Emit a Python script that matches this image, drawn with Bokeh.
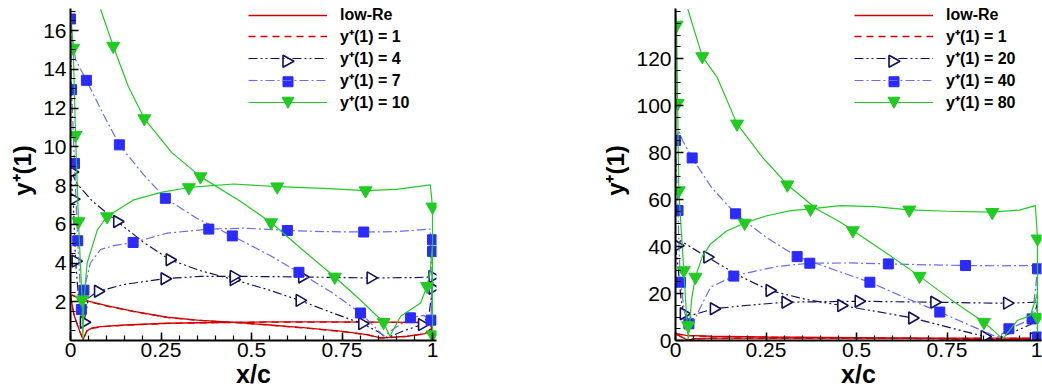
import numpy as np
from bokeh.plotting import figure
from bokeh.layouts import row
from bokeh.models import FixedTicker, Legend, LegendItem, Range1d, PolyAnnotation
from bokeh.embed import file_html
from bokeh.resources import INLINE

# ---------------- LEFT PANEL DATA ----------------
L_lowre_a_x = [0, 0.005, 0.035, 0.1, 0.175, 0.267, 0.35, 0.451, 0.55, 0.65, 0.746, 0.82, 0.856, 0.9, 0.93, 0.98, 0.995, 1.0]
L_lowre_a_y = [2.3, 2.35, 2.1, 1.8, 1.5, 1.2, 1.05, 0.94, 0.8, 0.65, 0.48, 0.3, 0.14, 0.18, 0.22, 0.36, 0.6, 0.2]
L_lowre_b_x = [0, 0.01, 0.025, 0.035, 0.045, 0.06, 0.083, 0.15, 0.267, 0.4, 0.55, 0.7, 0.85, 0.95, 0.995, 1.0]
L_lowre_b_y = [2.3, 1.3, 0.5, 0.05, 0.5, 0.65, 0.72, 0.8, 0.89, 0.93, 0.96, 0.96, 0.95, 0.94, 0.94, 0.1]

L_yp1_a_x = [0, 0.005, 0.035, 0.1, 0.175, 0.267, 0.35, 0.451, 0.55, 0.65, 0.746, 0.82, 0.856, 0.9, 0.93, 0.98, 0.995, 1.0]
L_yp1_a_y = [2.28, 2.33, 2.08, 1.78, 1.49, 1.19, 1.04, 0.93, 0.79, 0.64, 0.47, 0.29, 0.13, 0.17, 0.21, 0.35, 0.58, 0.2]
L_yp1_b_x = [0, 0.01, 0.025, 0.035, 0.045, 0.06, 0.083, 0.15, 0.267, 0.4, 0.55, 0.7, 0.85, 0.95, 0.995, 1.0]
L_yp1_b_y = [2.28, 1.28, 0.48, 0.05, 0.48, 0.63, 0.7, 0.79, 0.88, 0.92, 0.95, 0.95, 0.94, 0.93, 0.93, 0.1]

L_yp4_a_x = [0, 0.005, 0.018, 0.06, 0.129, 0.2, 0.274, 0.36, 0.451, 0.55, 0.633, 0.72, 0.806, 0.85, 0.875, 0.92, 0.971, 0.99, 1.0]
L_yp4_a_y = [8.7, 8.6, 8.1, 7.2, 6.14, 5.1, 4.17, 3.6, 3.14, 2.6, 2.07, 1.45, 0.87, 0.45, 0.14, 0.5, 0.82, 1.3, 2.7]
L_yp4_a_mx = [0.004, 0.129, 0.274, 0.451, 0.633, 0.806, 0.971, 1.0]
L_yp4_a_my = [8.7, 6.14, 4.17, 3.14, 2.07, 0.87, 0.82, 2.7]
L_yp4_b_x = [0, 0.003, 0.0075, 0.014, 0.024, 0.03, 0.037, 0.05, 0.076, 0.15, 0.26, 0.359, 0.451, 0.55, 0.64, 0.75, 0.829, 0.95, 0.999, 1.0]
L_yp4_b_y = [8.7, 8.0, 7.3, 4.1, 1.8, 1.1, 0.94, 2.2, 2.54, 2.9, 3.19, 3.31, 3.31, 3.3, 3.28, 3.25, 3.23, 3.25, 3.28, 0.1]
L_yp4_b_mx = [0.0075, 0.014, 0.037, 0.076, 0.26, 0.451, 0.64, 0.829, 1.0]
L_yp4_b_my = [7.3, 4.1, 0.94, 2.54, 3.19, 3.31, 3.28, 3.23, 3.3]

L_yp7_a_x = [0, 0.005, 0.014, 0.044, 0.09, 0.135, 0.2, 0.262, 0.35, 0.447, 0.55, 0.631, 0.72, 0.801, 0.84, 0.865, 0.9, 0.939, 0.975, 0.996, 1.0]
L_yp7_a_y = [16.6, 15.6, 14.5, 13.43, 11.7, 10.1, 8.6, 7.34, 6.3, 5.4, 4.4, 3.52, 2.5, 1.42, 0.7, 0.22, 0.7, 1.17, 1.3, 1.05, 4.6]
L_yp7_a_mx = [0.0, 0.044, 0.135, 0.262, 0.447, 0.631, 0.801, 0.939, 0.996, 1.0]
L_yp7_a_my = [16.6, 13.43, 10.1, 7.34, 5.4, 3.52, 1.42, 1.17, 1.05, 4.6]
L_yp7_b_x = [0, 0.003, 0.011, 0.02, 0.03, 0.034, 0.037, 0.055, 0.083, 0.12, 0.173, 0.267, 0.382, 0.48, 0.599, 0.7, 0.81, 0.9, 0.994, 1.0]
L_yp7_b_y = [16.6, 12.95, 9.14, 5.15, 1.6, 1.0, 2.6, 4.0, 4.7, 4.9, 5.06, 5.54, 5.75, 5.8, 5.68, 5.62, 5.6, 5.62, 5.75, 0.2]
L_yp7_b_mx = [0.003, 0.011, 0.02, 0.03, 0.037, 0.173, 0.382, 0.599, 0.81, 1.0]
L_yp7_b_my = [12.95, 9.14, 5.15, 1.6, 2.6, 5.06, 5.75, 5.68, 5.6, 5.2]

L_yp10_a_x = [0.083, 0.118, 0.16, 0.204, 0.28, 0.359, 0.47, 0.554, 0.64, 0.73, 0.8, 0.865, 0.882, 0.912, 0.967, 0.985, 0.994, 1.0]
L_yp10_a_y = [17.1, 15.2, 13.1, 11.46, 9.7, 8.46, 7.17, 6.09, 4.7, 3.28, 2.1, 0.94, 0.22, 1.25, 1.94, 2.8, 3.65, 5.0]
L_yp10_a_mx = [0.118, 0.204, 0.359, 0.554, 0.73, 0.865, 0.985]
L_yp10_a_my = [15.2, 11.46, 8.46, 6.09, 3.28, 0.94, 2.8]
L_yp10_b_x = [0, 0.0075, 0.014, 0.022, 0.032, 0.034, 0.037, 0.046, 0.074, 0.101, 0.175, 0.25, 0.327, 0.451, 0.571, 0.7, 0.815, 0.9, 0.994, 1.0, 1.0]
L_yp10_b_y = [17.1, 15.1, 10.6, 6.14, 2.1, 0.05, 2.0, 4.0, 5.7, 6.4, 7.26, 7.65, 7.9, 8.08, 7.94, 7.85, 7.74, 7.8, 8.03, 6.9, 0.1]
L_yp10_b_mx = [0.0075, 0.014, 0.022, 0.032, 0.101, 0.327, 0.571, 0.815, 1.0, 1.0]
L_yp10_b_my = [15.1, 10.6, 6.14, 2.1, 6.4, 7.9, 7.94, 7.74, 6.9, 0.3]

# ---------------- RIGHT PANEL DATA ----------------
R_lowre_a_x = [0, 0.005, 0.03, 0.1, 0.25, 0.5, 0.75, 0.88, 0.95, 1.0]
R_lowre_a_y = [3.0, 2.8, 2.2, 1.8, 1.5, 1.2, 0.8, 0.3, 0.6, 0.4]
R_lowre_b_x = [0, 0.02, 0.035, 0.05, 0.1, 0.3, 0.6, 0.9, 0.995, 1.0]
R_lowre_b_y = [3.0, 1.2, 0.1, 0.8, 1.0, 1.0, 1.0, 1.0, 1.0, 0.1]

R_yp1_a_x = [0, 0.005, 0.03, 0.1, 0.25, 0.5, 0.75, 0.88, 0.95, 1.0]
R_yp1_a_y = [2.9, 2.7, 2.1, 1.7, 1.4, 1.1, 0.7, 0.3, 0.5, 0.4]
R_yp1_b_x = [0, 0.02, 0.035, 0.05, 0.1, 0.3, 0.6, 0.9, 0.995, 1.0]
R_yp1_b_y = [2.9, 1.1, 0.1, 0.7, 0.9, 0.9, 0.9, 0.9, 0.9, 0.1]

R_yp20_a_x = [0, 0.005, 0.014, 0.05, 0.088, 0.17, 0.26, 0.36, 0.458, 0.55, 0.654, 0.75, 0.854, 0.88, 0.944, 0.985, 1.0]
R_yp20_a_y = [40.4, 40.4, 42.5, 39.0, 35.5, 28.0, 21.3, 17.5, 14.9, 12.5, 9.6, 5.8, 1.7, 0.3, 4.3, 7.1, 16.0]
R_yp20_a_mx = [0.005, 0.088, 0.26, 0.458, 0.654, 0.854]
R_yp20_a_my = [40.4, 35.5, 21.3, 14.9, 9.6, 1.7]
R_yp20_b_x = [0, 0.008, 0.015, 0.023, 0.035, 0.05, 0.106, 0.2, 0.304, 0.4, 0.506, 0.6, 0.715, 0.82, 0.916, 0.999, 1.0]
R_yp20_b_y = [40.4, 30.0, 18.0, 11.4, 9.0, 11.0, 13.5, 15.0, 16.3, 16.5, 16.7, 16.5, 16.3, 16.0, 15.9, 16.3, 0.5]
R_yp20_b_mx = [0.023, 0.106, 0.304, 0.506, 0.715, 0.916, 0.99]
R_yp20_b_my = [11.4, 13.5, 16.3, 16.7, 16.3, 15.9, 0.8]

R_yp40_a_x = [0, 0.009, 0.02, 0.046, 0.1, 0.166, 0.25, 0.336, 0.44, 0.537, 0.63, 0.73, 0.82, 0.889, 0.921, 0.985, 1.0]
R_yp40_a_y = [85.1, 89.4, 85.0, 77.7, 65.0, 53.9, 44.0, 35.7, 30.0, 24.8, 18.5, 12.1, 6.0, 1.4, 5.0, 9.2, 30.0]
R_yp40_a_mx = [0.0, 0.046, 0.166, 0.336, 0.537, 0.73, 0.921, 0.985]
R_yp40_a_my = [85.1, 77.7, 53.9, 35.7, 24.8, 12.1, 5.0, 9.2]
R_yp40_b_x = [0, 0.003, 0.007, 0.01, 0.014, 0.025, 0.037, 0.045, 0.06, 0.097, 0.161, 0.22, 0.281, 0.371, 0.48, 0.588, 0.7, 0.801, 0.9, 0.999, 1.0]
R_yp40_b_y = [85.1, 70.0, 55.3, 38.0, 24.8, 12.0, 7.1, 6.0, 11.3, 22.7, 27.4, 29.5, 31.5, 32.9, 33.0, 32.6, 32.2, 31.9, 31.8, 31.9, 1.0]
R_yp40_b_mx = [0.007, 0.014, 0.037, 0.161, 0.371, 0.588, 0.801, 1.0, 1.0]
R_yp40_b_my = [55.3, 24.8, 7.1, 27.4, 32.9, 32.6, 31.9, 30.5, 1.5]

R_yp80_a_x = [0.034, 0.074, 0.115, 0.17, 0.24, 0.309, 0.39, 0.456, 0.49, 0.58, 0.674, 0.76, 0.852, 0.904, 0.944, 0.98, 1.0]
R_yp80_a_y = [141.0, 120.9, 112.0, 92.2, 78.0, 66.3, 56.0, 50.3, 46.8, 37.5, 27.4, 17.5, 7.8, 0.7, 8.5, 10.6, 20.0]
R_yp80_a_mx = [0.074, 0.17, 0.309, 0.49, 0.674, 0.852]
R_yp80_a_my = [120.9, 92.2, 66.3, 46.8, 27.4, 7.8]
R_yp80_b_x = [0, 0.003, 0.006, 0.009, 0.023, 0.03, 0.035, 0.045, 0.055, 0.075, 0.097, 0.14, 0.191, 0.25, 0.318, 0.373, 0.456, 0.55, 0.646, 0.75, 0.875, 0.95, 0.994, 1.0, 1.0]
R_yp80_b_y = [141.0, 134.3, 101.0, 63.8, 29.8, 12.0, 0.5, 18.0, 27.2, 36.0, 41.1, 46.5, 50.0, 53.0, 55.3, 56.0, 57.4, 57.0, 55.6, 55.0, 54.6, 55.5, 57.4, 43.3, 0.5]
R_yp80_b_mx = [0.003, 0.006, 0.009, 0.023, 0.035, 0.055, 0.191, 0.373, 0.646, 0.875, 1.0, 1.0]
R_yp80_b_my = [134.3, 101.0, 63.8, 29.8, 6.4, 27.0, 50.0, 56.0, 55.6, 54.6, 43.3, 9.9]

# ---------------- TICKS / LABELS ----------------
x_ticks = [0, 0.25, 0.5, 0.75, 1]
x_tick_labels = ["0", "0.25", "0.5", "0.75", "1"]
L_y_ticks = [2, 4, 6, 8, 10, 12, 14, 16]
R_y_ticks = [0, 20, 40, 60, 80, 100, 120]
L_labels = ["low-Re", "y\u207a(1) = 1", "y\u207a(1) = 4", "y\u207a(1) = 7", "y\u207a(1) = 10"]
R_labels = ["low-Re", "y\u207a(1) = 1", "y\u207a(1) = 20", "y\u207a(1) = 40", "y\u207a(1) = 80"]
L_y_axis_top = 17.14
R_y_axis_top = 141.3

RED = "#d40000"
NAVY = "#10105e"
BLUE_LINE = "#6a6aff"
BLUE_MK = "#2b2bff"
GREEN = "#1fcc1f"
FONT = "Liberation Sans"

ITEM_H = 22.5    # legend row height (set by the 16px label text)
ROW_GAP = -2
GLYPH_W = 79


def legend_marker(p, kind, cx, cy):
    """Draw a legend marker as a screen-space polygon (Bokeh's legend ignores marker angle)."""
    if kind == "tri_right":
        xs = [cx - 5, cx - 5, cx + 6]
        ys = [cy + 6, cy - 6, cy]
        fill, line, lw = "white", NAVY, 1.6
    elif kind == "square":
        xs = [cx - 5, cx + 5, cx + 5, cx - 5]
        ys = [cy - 5, cy - 5, cy + 5, cy + 5]
        fill, line, lw = BLUE_MK, BLUE_MK, 1
    else:
        xs = [cx - 6, cx + 6, cx]
        ys = [cy + 5, cy + 5, cy - 6]
        fill, line, lw = GREEN, GREEN, 1
    p.add_layout(PolyAnnotation(xs=xs, ys=ys, xs_units="screen", ys_units="screen",
                                fill_color=fill, fill_alpha=1.0, line_color=line,
                                line_alpha=1.0, line_width=lw, level="overlay"))


def make_panel(width, border_left, border_right, frame_bottom, axis_top, yticks, yminor,
               series, labels, legend_x, legend_y):
    # the frame reaches the top of the canvas so the legend is not clipped;
    # the y axis line itself stops at axis_top (8 px below the canvas top)
    px_per_unit = (frame_bottom - 8) / axis_top
    ymax = frame_bottom / px_per_unit
    p = figure(width=width, height=392, output_backend="svg", toolbar_location=None,
               x_range=Range1d(0, 1.011), y_range=Range1d(0, ymax),
               min_border_left=border_left, min_border_right=border_right,
               min_border_top=0, min_border_bottom=392 - frame_bottom)
    p.outline_line_color = None
    p.xgrid.visible = False
    p.ygrid.visible = False
    p.background_fill_color = "white"
    p.border_fill_color = "white"

    xa = p.xaxis[0]
    xa.ticker = FixedTicker(ticks=x_ticks, minor_ticks=[round(0.05 * i, 2) for i in range(21)])
    xa.major_label_overrides = {t: s for t, s in zip(x_ticks, x_tick_labels)}
    ya = p.yaxis[0]
    ya.ticker = FixedTicker(ticks=yticks, minor_ticks=yminor)
    ya.bounds = (0, axis_top)
    for ax in (xa, ya):
        ax.axis_line_width = 2
        ax.axis_line_color = "black"
        ax.major_tick_in = 8
        ax.major_tick_out = 0
        ax.minor_tick_in = 5
        ax.minor_tick_out = 0
        ax.major_tick_line_width = 1.5
        ax.minor_tick_line_width = 1.2
        ax.major_tick_line_color = "black"
        ax.minor_tick_line_color = "black"
        ax.major_label_text_font = FONT
        ax.major_label_text_font_size = "21px"
        ax.major_label_text_color = "black"
        ax.axis_label_text_font = FONT
        ax.axis_label_text_font_style = "bold"
        ax.axis_label_text_color = "black"
    xa.axis_label = "x/c"
    xa.axis_label_text_font_size = "25px"
    xa.major_label_standoff = 2
    xa.axis_label_standoff = 0
    ya.axis_label = "y\u207a(1)"
    ya.axis_label_text_font_size = "24px"
    ya.major_label_standoff = 4
    ya.axis_label_standoff = 4

    items = []
    n = len(labels)
    for i, (lab, s) in enumerate(zip(labels, series)):
        rends = []
        for (bx, by) in s["lines"]:
            r = p.line(bx, by, line_color=s["color"], line_width=s.get("lw", 1.2),
                       line_dash=s.get("dash", "solid"))
            rends.append(r)
        for (mx, my) in s.get("markers", []):
            mk = s["marker"]
            p.scatter(mx, my, marker=mk["type"], size=mk["size"], angle=mk.get("angle", 0.0),
                      fill_color=mk["fill"], line_color=mk["line"], line_width=mk.get("lw", 1.0))
        items.append(LegendItem(label=lab, renderers=[rends[0]]))
        if "legend_marker" in s:
            cy = legend_y + (n - 1 - i) * (ITEM_H + ROW_GAP) + ITEM_H / 2
            cx = legend_x + GLYPH_W / 2
            legend_marker(p, s["legend_marker"], cx, cy)

    legend = Legend(items=items, location=(legend_x, legend_y), orientation="vertical",
                    border_line_color=None, background_fill_alpha=0.0, padding=0, margin=0,
                    spacing=ROW_GAP, glyph_height=20, glyph_width=GLYPH_W, label_standoff=13,
                    label_text_font=FONT, label_text_font_size="16px",
                    label_text_font_style="bold", label_text_color="black",
                    label_height=20)
    p.add_layout(legend)
    return p


tri_navy = {"type": "triangle", "size": 12, "angle": -np.pi / 2, "fill": "white", "line": NAVY, "lw": 1.6}
sq_blue = {"type": "square", "size": 10, "fill": BLUE_MK, "line": BLUE_MK}
tri_green = {"type": "inverted_triangle", "size": 13, "fill": GREEN, "line": GREEN}

left_series = [
    {"lines": [(L_lowre_a_x, L_lowre_a_y), (L_lowre_b_x, L_lowre_b_y)], "color": RED, "lw": 1.3},
    {"lines": [(L_yp1_a_x, L_yp1_a_y), (L_yp1_b_x, L_yp1_b_y)], "color": RED, "lw": 1.3, "dash": "7 5"},
    {"lines": [(L_yp4_a_x, L_yp4_a_y), (L_yp4_b_x, L_yp4_b_y)], "color": NAVY, "dash": "9 3 2 3 2 3",
     "markers": [(L_yp4_a_mx, L_yp4_a_my), (L_yp4_b_mx, L_yp4_b_my)], "marker": tri_navy,
     "legend_marker": "tri_right"},
    {"lines": [(L_yp7_a_x, L_yp7_a_y), (L_yp7_b_x, L_yp7_b_y)], "color": BLUE_LINE, "dash": "9 3 2 3",
     "markers": [(L_yp7_a_mx, L_yp7_a_my), (L_yp7_b_mx, L_yp7_b_my)], "marker": sq_blue,
     "legend_marker": "square"},
    {"lines": [(L_yp10_a_x, L_yp10_a_y), (L_yp10_b_x, L_yp10_b_y)], "color": GREEN,
     "markers": [(L_yp10_a_mx, L_yp10_a_my), (L_yp10_b_mx, L_yp10_b_my)], "marker": tri_green,
     "legend_marker": "tri_down"},
]
right_series = [
    {"lines": [(R_lowre_a_x, R_lowre_a_y), (R_lowre_b_x, R_lowre_b_y)], "color": RED, "lw": 1.3},
    {"lines": [(R_yp1_a_x, R_yp1_a_y), (R_yp1_b_x, R_yp1_b_y)], "color": RED, "lw": 1.3, "dash": "7 5"},
    {"lines": [(R_yp20_a_x, R_yp20_a_y), (R_yp20_b_x, R_yp20_b_y)], "color": NAVY, "dash": "9 3 2 3 2 3",
     "markers": [(R_yp20_a_mx, R_yp20_a_my), (R_yp20_b_mx, R_yp20_b_my)], "marker": tri_navy,
     "legend_marker": "tri_right"},
    {"lines": [(R_yp40_a_x, R_yp40_a_y), (R_yp40_b_x, R_yp40_b_y)], "color": BLUE_LINE, "dash": "9 3 2 3",
     "markers": [(R_yp40_a_mx, R_yp40_a_my), (R_yp40_b_mx, R_yp40_b_my)], "marker": sq_blue,
     "legend_marker": "square"},
    {"lines": [(R_yp80_a_x, R_yp80_a_y), (R_yp80_b_x, R_yp80_b_y)], "color": GREEN,
     "markers": [(R_yp80_a_mx, R_yp80_a_my), (R_yp80_b_mx, R_yp80_b_my)], "marker": tri_green,
     "legend_marker": "tri_down"},
]

L_minor = [0.5 * i for i in range(0, 35)]
R_minor = [5 * i for i in range(0, 29)]

p1 = make_panel(521, 70, 85, 341, L_y_axis_top, L_y_ticks, L_minor, left_series, L_labels, 178, 227)
p2 = make_panel(521, 154, 1, 340, R_y_axis_top, R_y_ticks, R_minor, right_series, R_labels, 179, 227)

layout = row(p1, p2, spacing=0)
open("out.html", "w").write(file_html(layout, INLINE))
